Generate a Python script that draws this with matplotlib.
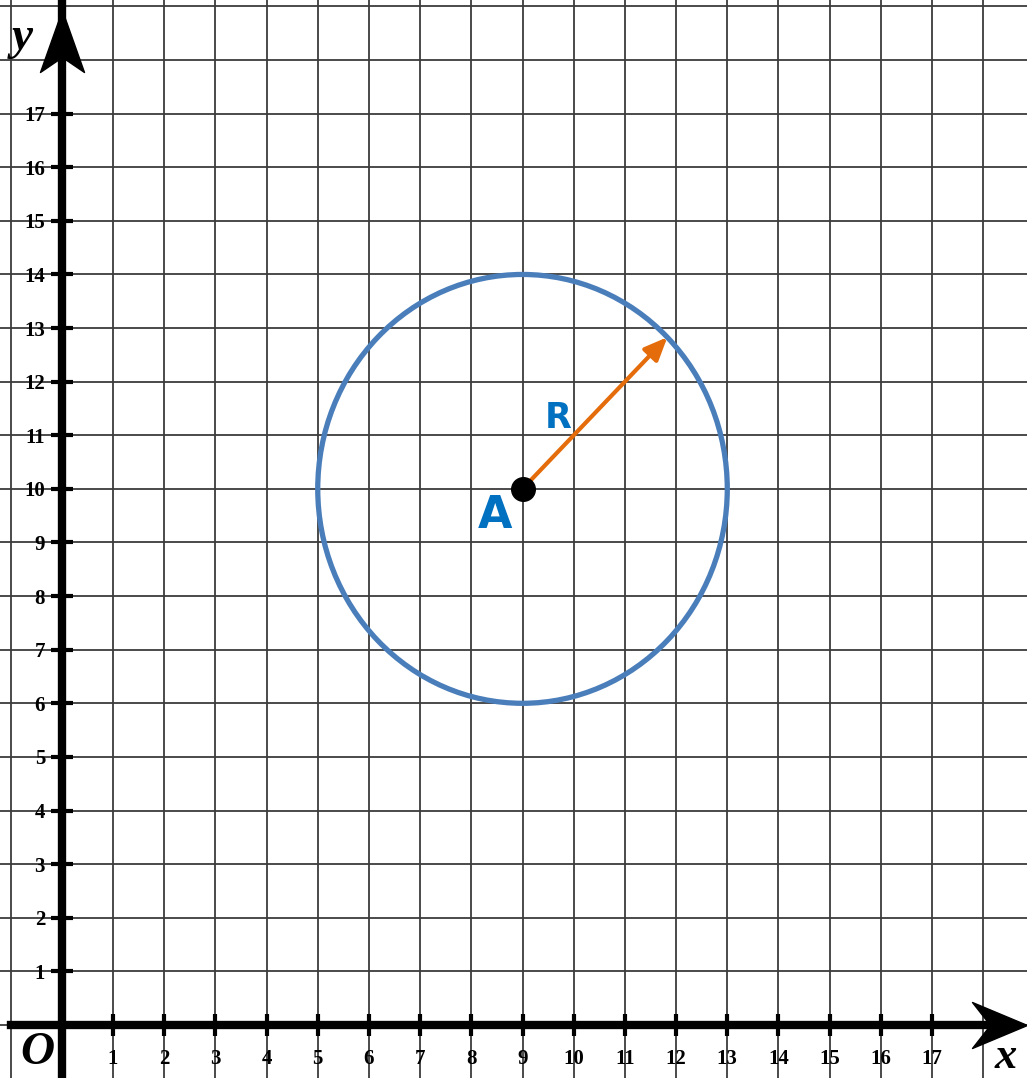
import matplotlib
matplotlib.use("Agg")
import matplotlib.pyplot as plt
from matplotlib.patches import Circle
from matplotlib.path import Path
from matplotlib.ticker import FixedLocator

# chart values
x_ticks = list(range(1, 18))
y_ticks = list(range(1, 18))
grid_lines = list(range(-1, 20))
center = (9, 10)
radius = 4
arrow_end = (11.83, 12.83)

x_limits = (-1.207, 18.855)
y_limits = (-0.99, 19.12)

circle_color = "#4A7EBB"
label_color = "#0070C0"
arrow_color = "#E46C0A"
serif = ["Liberation Serif", "DejaVu Serif"]

fig = plt.figure(figsize=(10.27, 10.78), dpi=100)
ax = fig.add_axes([0, 0, 1, 1])
ax.set_xlim(*x_limits)
ax.set_ylim(*y_limits)

# grid on every unit (minor locs that hit a major tick are dropped by matplotlib,
# so the major grid covers those)
ax.set_xticks(x_ticks)
ax.set_yticks(y_ticks)
ax.xaxis.set_minor_locator(FixedLocator(grid_lines))
ax.yaxis.set_minor_locator(FixedLocator(grid_lines))
ax.grid(which="both", color="#3c3c3c", linewidth=1.3)
ax.tick_params(which="minor", length=0)

# axes through the origin
for side in ("top", "right"):
    ax.spines[side].set_visible(False)
ax.spines["left"].set_position(("data", 0))
ax.spines["bottom"].set_position(("data", 0))
ax.spines["left"].set_linewidth(6)
ax.spines["bottom"].set_linewidth(6)
ax.spines["bottom"].set_bounds(-1, 18.5)
ax.spines["left"].set_zorder(3)
ax.spines["bottom"].set_zorder(3)

ax.tick_params(which="major", direction="inout", length=16, width=3, color="black")
ax.tick_params(axis="x", which="major", pad=9)
ax.tick_params(axis="y", which="major", pad=4)
for lbl in ax.get_xticklabels() + ax.get_yticklabels():
    lbl.set_fontfamily(serif)
    lbl.set_fontweight("bold")
    lbl.set_fontsize(15)

# notched arrow heads at the axis ends
head_up = Path([(0, 0), (-22, -62), (0, -47), (22, -62), (0, 0)],
               [Path.MOVETO, Path.LINETO, Path.LINETO, Path.LINETO, Path.CLOSEPOLY])
head_right = Path([(0, 0), (-55, 23), (-37, 0), (-55, -23), (0, 0)],
                  [Path.MOVETO, Path.LINETO, Path.LINETO, Path.LINETO, Path.CLOSEPOLY])
ax.plot([0], [18.94], marker=head_up, markersize=124 / 1.389, color="black",
        clip_on=False, zorder=4)
ax.plot([18.85], [0], marker=head_right, markersize=110 / 1.389, color="black",
        clip_on=False, zorder=4)

# axis names
ax.text(-0.78, 18.42, "y", fontsize=34, fontstyle="italic", fontweight="bold",
        family=serif, ha="center", va="center")
ax.text(18.43, -0.6, "x", fontsize=32, fontstyle="italic", fontweight="bold",
        family=serif, ha="center", va="center")
ax.text(-0.48, -0.52, "O", fontsize=34, fontstyle="italic", fontweight="bold",
        family=serif, ha="center", va="center")

# circle, radius and centre
ax.add_patch(Circle(center, radius, fill=False, edgecolor=circle_color,
                    linewidth=3.8, zorder=5))
ax.annotate("", xy=arrow_end, xytext=center,
            arrowprops=dict(arrowstyle="-|>,head_length=1.4,head_width=0.6",
                            color=arrow_color, lw=3, shrinkA=0, shrinkB=0),
            zorder=6)
ax.plot([center[0]], [center[1]], "o", color="black", markersize=17, zorder=7)
ax.text(8.46, 9.5, "A", fontsize=32, fontweight="bold", color=label_color,
        ha="center", va="center", zorder=7)
ax.text(9.69, 11.32, "R", fontsize=25, fontweight="bold", color=label_color,
        ha="center", va="center", zorder=7)

fig.savefig("out.png", dpi=100)
